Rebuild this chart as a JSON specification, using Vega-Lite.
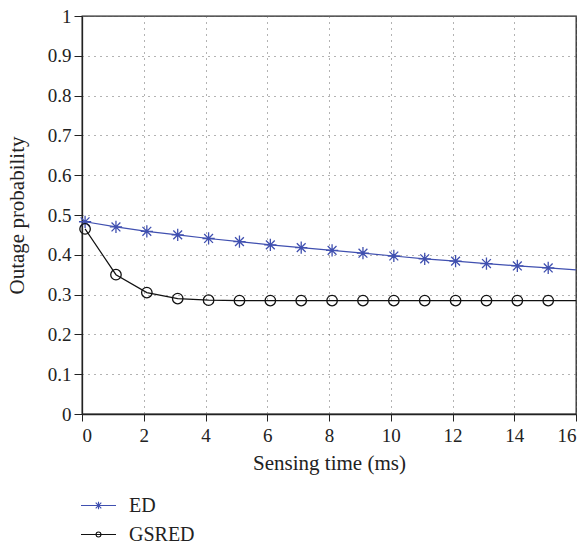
{
  "$schema": "https://vega.github.io/schema/vega-lite/v6.json",
  "autosize": {"type": "none"},
  "padding": {"left": 82, "top": 16, "right": 12, "bottom": 130},
  "width": 494,
  "height": 398,
  "background": "white",
  "config": {
    "font": "Liberation Serif",
    "view": {"stroke": "#222", "strokeWidth": 1.3},
    "legend": {"labelFont": "Liberation Serif", "labelFontSize": 20},
    "axis": {
      "labelFont": "Liberation Serif",
      "titleFont": "Liberation Serif",
      "labelFontSize": 19,
      "titleFontSize": 21,
      "titleFontWeight": "normal",
      "labelColor": "#222",
      "titleColor": "#222",
      "domainColor": "#222",
      "tickColor": "#222",
      "tickSize": 8,
      "domainWidth": 1.3,
      "gridColor": "#666",
      "gridDash": [1, 5],
      "gridWidth": 1
    }
  },
  "datasets": {
    "curves": [
      {"t": 0.1, "p": 0.483, "series": "ED"},
      {"t": 1.1, "p": 0.470, "series": "ED"},
      {"t": 2.1, "p": 0.459, "series": "ED"},
      {"t": 3.1, "p": 0.450, "series": "ED"},
      {"t": 4.1, "p": 0.441, "series": "ED"},
      {"t": 5.1, "p": 0.433, "series": "ED"},
      {"t": 6.1, "p": 0.425, "series": "ED"},
      {"t": 7.1, "p": 0.418, "series": "ED"},
      {"t": 8.1, "p": 0.411, "series": "ED"},
      {"t": 9.1, "p": 0.404, "series": "ED"},
      {"t": 10.1, "p": 0.397, "series": "ED"},
      {"t": 11.1, "p": 0.390, "series": "ED"},
      {"t": 12.1, "p": 0.384, "series": "ED"},
      {"t": 13.1, "p": 0.378, "series": "ED"},
      {"t": 14.1, "p": 0.372, "series": "ED"},
      {"t": 15.1, "p": 0.367, "series": "ED"},
      {"t": 16, "p": 0.362, "series": "ED"},
      {"t": 0.1, "p": 0.465, "series": "GSRED"},
      {"t": 1.1, "p": 0.350, "series": "GSRED"},
      {"t": 2.1, "p": 0.305, "series": "GSRED"},
      {"t": 3.1, "p": 0.290, "series": "GSRED"},
      {"t": 4.1, "p": 0.286, "series": "GSRED"},
      {"t": 5.1, "p": 0.285, "series": "GSRED"},
      {"t": 6.1, "p": 0.285, "series": "GSRED"},
      {"t": 7.1, "p": 0.285, "series": "GSRED"},
      {"t": 8.1, "p": 0.285, "series": "GSRED"},
      {"t": 9.1, "p": 0.285, "series": "GSRED"},
      {"t": 10.1, "p": 0.285, "series": "GSRED"},
      {"t": 11.1, "p": 0.285, "series": "GSRED"},
      {"t": 12.1, "p": 0.285, "series": "GSRED"},
      {"t": 13.1, "p": 0.285, "series": "GSRED"},
      {"t": 14.1, "p": 0.285, "series": "GSRED"},
      {"t": 15.1, "p": 0.285, "series": "GSRED"},
      {"t": 16, "p": 0.285, "series": "GSRED"}
    ]
  },
  "data": {"name": "curves"},
  "encoding": {
    "x": {
      "field": "t", "type": "quantitative",
      "scale": {"domain": [0, 16], "nice": false},
      "axis": {"title": "Sensing time (ms)", "values": [0,2,4,6,8,10,12,14,16], "tickSize": 7, "labelPadding": 5, "titlePadding": 7, "format": "d"}
    },
    "y": {
      "field": "p", "type": "quantitative",
      "scale": {"domain": [0, 1], "nice": false},
      "axis": {"title": "Outage probability", "values": [0,0.1,0.2,0.3,0.4,0.5,0.6,0.7,0.8,0.9,1], "format": "~g", "labelPadding": 3, "titlePadding": 20}
    }
  },
  "layer": [
    {
      "mark": {"type": "line", "strokeWidth": 1.2},
      "encoding": {
        "color": {
          "field": "series", "type": "nominal",
          "scale": {"domain": ["ED", "GSRED"], "range": ["#4050b0", "#111111"]},
          "legend": {
            "title": null,
            "orient": "none",
            "legendX": -2,
            "legendY": 471,
            "direction": "vertical",
            "labelColor": "#222",
            "symbolSize": 1225,
            "symbolStrokeWidth": 1.1,
            "labelOffset": 12,
            "rowPadding": -7,
            "encode": {
              "symbols": {
                "update": {
                  "shape": {"signal": "datum.value === 'ED' ? 'M-1,0H1M0,-0.22V0.22M-0.22,0H0.22M-0.16,-0.16L0.16,0.16M-0.16,0.16L0.16,-0.16' : 'M-1,0H-0.14M0.14,0H1M0.14,0A0.14,0.14 0 1,1 -0.14,0A0.14,0.14 0 1,1 0.14,0M-0.14,0H0.14'"},
                  "fill": {"value": "transparent"}
                }
              }
            }
          }
        }
      }
    },
    {
      "transform": [{"filter": "datum.t < 16 && datum.series === 'ED'"}],
      "mark": {"type": "point", "filled": false, "strokeWidth": 1.3, "opacity": 1, "color": "#4050b0", "size": 150,
        "shape": "M0,-1V1M-1,0H1M-0.72,-0.72L0.72,0.72M-0.72,0.72L0.72,-0.72"}
    },
    {
      "transform": [{"filter": "datum.t < 16 && datum.series === 'GSRED'"}],
      "mark": {"type": "point", "filled": false, "strokeWidth": 1.3, "opacity": 1, "color": "#111111", "size": 110, "shape": "circle"}
    }
  ]
}
